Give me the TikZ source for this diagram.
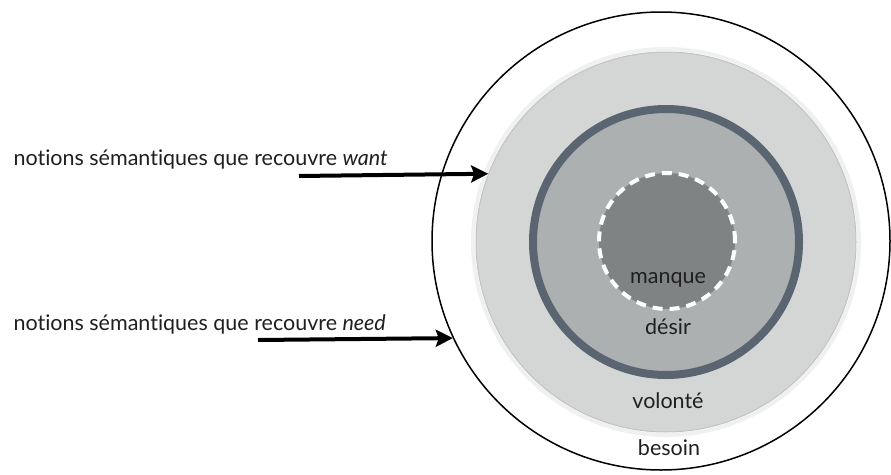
\documentclass[tikz,border=0pt]{standalone}
\usepackage{fontspec}
\setmainfont{Lato}[Ligatures={NoCommon,NoRare,NoDiscretionary}]
\usepackage{tikz}
\usetikzlibrary{arrows.meta}

\definecolor{volontefill}{RGB}{212,214,214}
\definecolor{volonteline}{RGB}{192,195,195}
\definecolor{desirfill}{RGB}{173,176,177}
\definecolor{desirring}{RGB}{90,101,113}
\definecolor{manquefill}{RGB}{128,131,131}

\begin{document}
\begin{tikzpicture}[x=1pt, y=-1pt,
    disc/.style={circle, inner sep=0pt},
    txt/.style={anchor=base, font=\fontsize{21.5}{26}\selectfont, text=black!88},
    pointer/.style={-{Stealth[length=17pt, width=17pt, inset=3pt]}, line width=4pt}]
    \useasboundingbox (0,0) rectangle (891,474);

    % Centres
    \coordinate (c0) at (661,241);
    \coordinate (c) at (666,242);

    % Nested discs, outside in
    \node[disc, draw, line width=1.5pt, minimum size=458pt] (besoin) at (c0) {};
    \node[disc, draw=black!6, line width=4pt, minimum size=386pt] (halo) at (c) {};
    \node[disc, draw=volonteline, fill=volontefill, line width=1pt, minimum size=380pt] (volonte) at (c) {};
    \node[disc, draw=desirring, fill=desirfill, line width=8pt, minimum size=266pt] (desir) at (c) {};
    \node[disc, draw=white, fill=manquefill, line width=4pt, dash pattern=on 10pt off 7pt, minimum size=136pt] (manque) at (667,241) {};

    % Labels in the discs
    \node[txt] (lmanque)  at (668,283) {manque};
    \node[txt] (ldesir)   at (668,334) {désir};
    \node[txt] (lvolonte) at (668,408) {volonté};
    \node[txt] (lbesoin)  at (669,455) {besoin};

    % Labels on the left
    \node[txt, anchor=base west] (lwant) at (10,165) {notions sémantiques que recouvre \textit{want}};
    \node[txt, anchor=base west] (lneed) at (10,330) {notions sémantiques que recouvre \textit{need}};

    % Pointers
    \coordinate (wantfrom) at (299,176);
    \coordinate (needfrom) at (258,340);
    \draw[pointer] (wantfrom) -- (volonte.159.7);
    \draw[pointer] (needfrom) -- (besoin.205.6);
\end{tikzpicture}
\end{document}
